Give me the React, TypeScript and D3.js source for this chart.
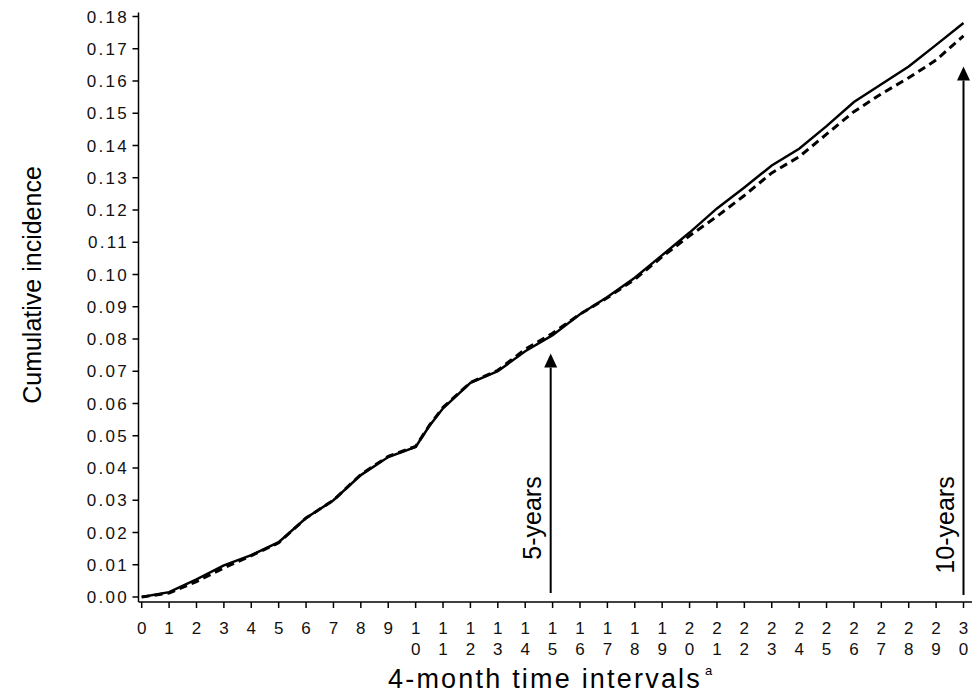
import React from "react";
import * as d3 from "d3";

const width = 974;
const height = 700;
const font = "'Liberation Sans', Arial, sans-serif";

// interval positions (x) and cumulative incidence for the two curves
const intervals = [0, 1, 2, 3, 4, 5, 6, 7, 8, 9, 10, 10.5, 11, 12, 13, 14, 15, 16, 17, 18, 19, 20, 21, 22, 23, 24, 25, 26, 27, 28, 29, 30];
const solidValues = [0.0, 0.0015, 0.0055, 0.0098, 0.013, 0.017, 0.0245, 0.03, 0.0378, 0.0434, 0.0465, 0.053, 0.0585, 0.0664, 0.07, 0.0762, 0.0812, 0.0877, 0.093, 0.099, 0.106, 0.113, 0.1205, 0.127, 0.1338, 0.139, 0.146, 0.1535, 0.159, 0.1645, 0.1712, 0.178];
const dashedValues = [0.0, 0.0012, 0.0048, 0.009, 0.0128, 0.0168, 0.0245, 0.03, 0.038, 0.0436, 0.0467, 0.0532, 0.0588, 0.0665, 0.0703, 0.0768, 0.0818, 0.0877, 0.0928, 0.0985, 0.1055, 0.112, 0.118, 0.1245, 0.1315, 0.1365, 0.1435, 0.1505, 0.156, 0.161, 0.1665, 0.174];

const xTicks = d3.range(0, 31);
const yTicks = d3.range(0, 0.1801, 0.01);

const arrowLabels = ["5-years", "10-years"];
const arrowX = [14.93, 30];
const arrowTip = [0.0755, 0.1645];

const xScale = d3.scaleLinear().domain([0, 30]).range([141.7, 963.5]);
const yScale = d3.scaleLinear().domain([0, 0.18]).range([597, 16.5]);

const axisX = 138.5;
const axisY = 602;

function Arrow({ x, tip, bottom, labelY, label }) {
  const head = 14;
  return (
    <g>
      <line x1={x} x2={x} y1={tip + head} y2={bottom} stroke="#000" strokeWidth={2} />
      <path d={`M${x},${tip} L${x - 6.5},${tip + head} L${x + 6.5},${tip + head} Z`} fill="#000" />
      <text
        transform={`translate(${x - 10},${labelY}) rotate(-90)`}
        textAnchor="middle"
        fontSize={25}
        fontFamily={font}
        fill="#000"
      >
        {label}
      </text>
    </g>
  );
}

export default function App() {
  const solidPts = intervals.map((t, i) => [t, solidValues[i]]);
  const dashedPts = intervals.map((t, i) => [t, dashedValues[i]]);
  const line = d3
    .line()
    .x((d) => xScale(d[0]))
    .y((d) => yScale(d[1]));

  return (
    <svg width={width} height={height} style={{ position: "absolute", left: 0, top: 0, background: "#fff" }}>
      {/* axes */}
      <line x1={axisX} x2={axisX} y1={12.5} y2={axisY} stroke="#000" strokeWidth={1.5} />
      <line x1={axisX} x2={972} y1={axisY} y2={axisY} stroke="#000" strokeWidth={1.5} />

      {yTicks.map((v, i) => (
        <g key={"y" + i}>
          <line x1={axisX - 6} x2={axisX} y1={yScale(v)} y2={yScale(v)} stroke="#000" strokeWidth={1.5} />
          <text
            x={129}
            y={yScale(v)}
            dy="0.36em"
            textAnchor="end"
            fontSize={17}
            letterSpacing={2.3}
            fontFamily={font}
            fill="#111"
          >
            {v.toFixed(2)}
          </text>
        </g>
      ))}

      {xTicks.map((v) => (
        <g key={"x" + v}>
          <line x1={xScale(v)} x2={xScale(v)} y1={axisY} y2={axisY + 6} stroke="#000" strokeWidth={1.5} />
          {String(v)
            .split("")
            .map((c, j) => (
              <text
                key={j}
                x={xScale(v)}
                y={634 + j * 21}
                textAnchor="middle"
                fontSize={17}
                fontFamily={font}
                fill="#111"
              >
                {c}
              </text>
            ))}
        </g>
      ))}

      {/* curves */}
      <path d={line(dashedPts)} fill="none" stroke="#000" strokeWidth={3} strokeDasharray="8,5" />
      <path d={line(solidPts)} fill="none" stroke="#000" strokeWidth={2.5} />

      {/* arrows */}
      {arrowLabels.map((l, i) => (
        <Arrow
          key={l}
          x={xScale(arrowX[i])}
          tip={yScale(arrowTip[i])}
          bottom={i === 0 ? 593 : 595}
          labelY={i === 0 ? 518 : 525}
          label={l}
        />
      ))}

      {/* titles */}
      <text
        transform="translate(41,285) rotate(-90)"
        textAnchor="middle"
        fontSize={25}
        fontFamily={font}
        fill="#000"
      >
        Cumulative incidence
      </text>
      <text x={388} y={688} fontSize={27} letterSpacing={2.2} fontFamily={font} fill="#000">
        4-month time intervals
        <tspan fontSize={13} dx={3} dy={-13} letterSpacing={0}>a</tspan>
      </text>
    </svg>
  );
}
